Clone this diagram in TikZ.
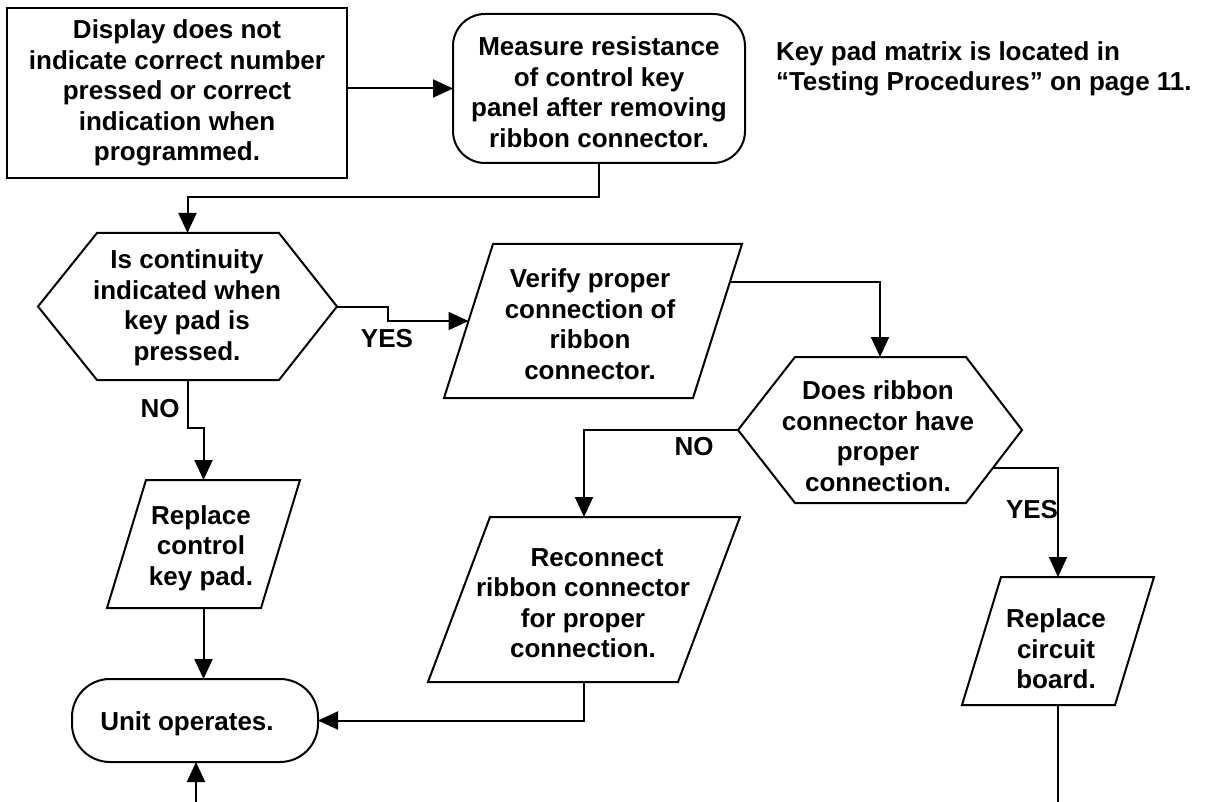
\documentclass[tikz,border=0pt]{standalone}
\usepackage{fontspec}
\setmainfont{Liberation Sans}
\usetikzlibrary{arrows.meta,calc}
\newcommand{\drawpara}[2]{\draw ($(#1.north west)+(#2,0pt)$) -- (#1.north east) -- ($(#1.south east)+(-#2,0pt)$) -- (#1.south west) -- cycle;}
\newcommand{\drawhex}[3]{\draw ($(#1.north west)+(#2,0pt)$) -- ($(#1.north east)+(-#3,0pt)$) -- (#1.east) -- ($(#1.south east)+(-#3,0pt)$) -- ($(#1.south west)+(#2,0pt)$) -- (#1.west) -- cycle;}
\begin{document}
\begin{tikzpicture}[x=1pt,y=-1pt,line width=2pt,line join=miter,
  txt/.style={font=\fontsize{26}{30.5}\selectfont\bfseries, align=center, inner sep=0pt},
  lbl/.style={font=\fontsize{26}{30.5}\selectfont\bfseries, inner sep=0pt},
  frame/.style={inner sep=0pt, outer sep=0pt},
  arr/.style={-{Triangle[length=20pt,width=18pt]}}]
\useasboundingbox (0,0) rectangle (1215,802);

% boxes
\node[draw, frame, txt, minimum width=340pt, minimum height=170pt] (b1) at (177,93)
  {Display does not\\indicate correct number\\pressed or correct\\indication when\\programmed.};
\node[draw, frame, rounded corners=32pt, minimum width=292pt, minimum height=149pt] (b2) at (599,88.5) {};
\node[txt] (b2t) at (599,92) {Measure resistance\\of control key\\panel after removing\\ribbon connector.};
\node[txt, align=left, anchor=west] (note) at (775,69)
  {Key pad matrix is located in\\“Testing Procedures” on page 11.};

% hexagons
\node[frame, minimum width=299pt, minimum height=147pt] (h1) at (187.5,306.5) {};
\drawhex{h1}{59pt}{58pt}
\node[txt] (h1t) at (187,308) {Is continuity\\indicated when\\key pad is\\pressed.};

\node[frame, minimum width=284pt, minimum height=146pt] (h2) at (880,430) {};
\drawhex{h2}{57pt}{56pt}
\node[txt] (h2t) at (878,436) {Does ribbon\\connector have\\proper\\connection.};

% parallelograms
\node[frame, minimum width=298pt, minimum height=154pt] (ver) at (593,321) {};
\drawpara{ver}{49pt}
\node[txt] (vert) at (590,324) {Verify proper\\connection of\\ribbon\\connector.};

\node[frame, minimum width=193pt, minimum height=128pt] (rk) at (203.5,544) {};
\drawpara{rk}{39pt}
\node[txt] (rkt) at (201,548) {Replace\\control\\key pad.};

\node[frame, minimum width=312pt, minimum height=165pt] (rc) at (584,599.5) {};
\drawpara{rc}{62pt}
\node[txt] (rct) at (583,603) {\hspace*{28pt}Reconnect\\ribbon connector\\for proper\\connection.};

\node[frame, minimum width=192pt, minimum height=128pt] (rcb) at (1058,641) {};
\drawpara{rcb}{39pt}
\node[txt] (rcbt) at (1056,649) {Replace\\circuit\\board.};

% terminal
\node[draw, frame, rounded corners=38pt, minimum width=246pt, minimum height=83pt] (unit) at (195,720.5) {};
\node[lbl] (unitt) at (187,724) {Unit operates.};

% helper coordinates
\coordinate (vin) at ($(ver.west)+(24.5pt,0pt)$);
\coordinate (ver-br) at ($(ver.south east)+(-49pt,0pt)$);
\coordinate (vout) at ($(ver.north east)!0.247!(ver-br)$);
\coordinate (h2-br) at ($(h2.south east)+(-56pt,0pt)$);
\coordinate (yout) at ($(h2.east)!0.527!(h2-br)$);
\coordinate (bot1) at (196,802);
\coordinate (bot2) at (1058,802);

% connectors
\draw[arr] (b1.east |- b2.west) -- (b2.west);
\draw[arr] (b2.south) |- ($(h1.north)+(0pt,36pt)$) -- (h1.north);
\draw[arr] (h1.east) -| ($(vin)+(-80.5pt,0pt)$) -- (vin);
\draw[arr] (h1.south) -- ++(0,48) -| (rk.north);
\draw[arr] (rk.south) -- (rk.south |- unit.north);
\draw[arr] (vout) -| (h2.north);
\draw[arr] (h2.west) -| (rc.north);
\draw[arr] (yout) -| (rcb.north);
\draw[arr] (rc.south) |- (unit.east);
\draw (rcb.south) -- (bot2);
\draw[arr] (bot1) -- (bot1 |- unit.south);

% labels
\node[lbl] (yes1) at (387,339) {YES};
\node[lbl] (no1) at (160,409) {NO};
\node[lbl] (no2) at (694,447) {NO};
\node[lbl] (yes2) at (1032,510) {YES};
\end{tikzpicture}
\end{document}
